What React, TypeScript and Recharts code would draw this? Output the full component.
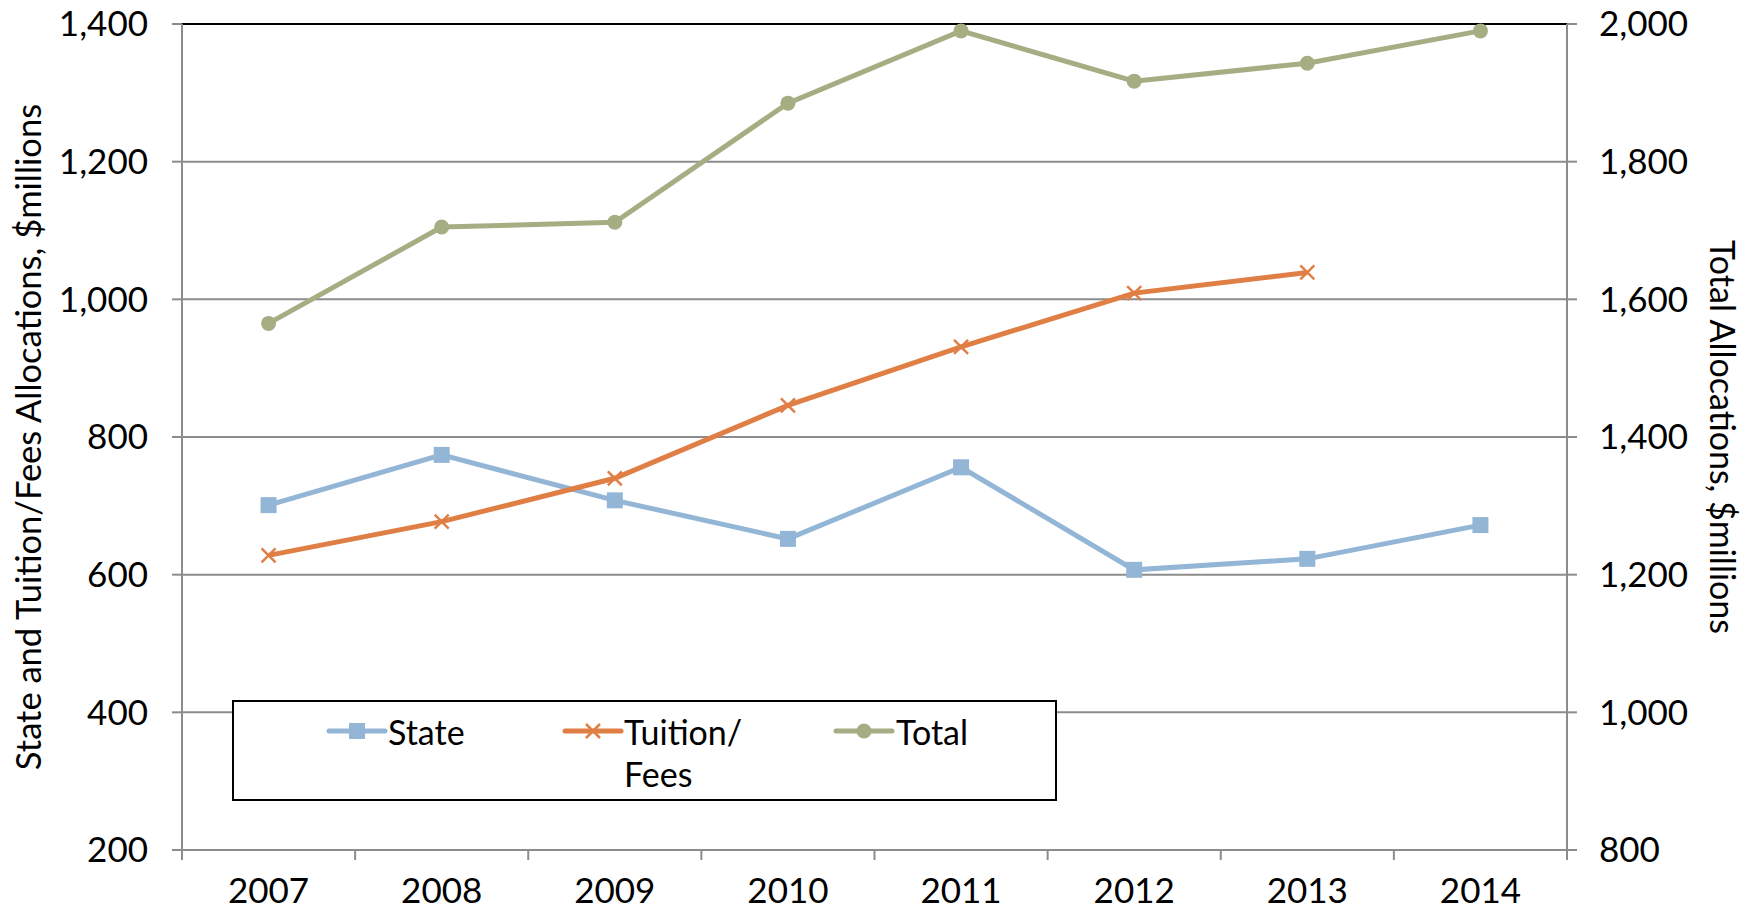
import React from "react";
import { LineChart, Line, XAxis, YAxis, CartesianGrid, ReferenceLine } from "recharts";

const years = ["2007", "2008", "2009", "2010", "2011", "2012", "2013", "2014"];
const stateVals = [701, 774, 708, 652, 756, 607, 623, 672];
const tuitionVals: (number | null)[] = [628, 677, 740, 846, 931, 1009, 1039, null];
const totalVals = [1565, 1705, 1712, 1885, 1990, 1917, 1943, 1990];
const leftTicks = [200, 400, 600, 800, 1000, 1200, 1400];
const rightTicks = [800, 1000, 1200, 1400, 1600, 1800, 2000];
const xTicks = [0, 0.5, 1, 1.5, 2, 2.5, 3, 3.5, 4, 4.5, 5, 5.5, 6, 6.5, 7, 7.5, 8];

const data = years.map((y, i) => ({
  x: i + 0.5,
  year: y,
  state: stateVals[i],
  tuition: tuitionVals[i],
  total: totalVals[i],
}));

const BLUE = "#93B6D6";
const ORANGE = "#E07F45";
const GREEN = "#A5AE83";
const GRID = "#8C8C8C";
const FONT = "Lato, 'Open Sans', sans-serif";

const fmt = (v: number) => v.toLocaleString("en-US");

const XTick = (props: any) => {
  const { x, y, payload } = props;
  const v = payload.value as number;
  if (Number.isInteger(v)) {
    return <line x1={x} x2={x} y1={y} y2={y + 10} stroke={GRID} strokeWidth={2} />;
  }
  return (
    <text x={x} y={y + 39} textAnchor="middle" dominantBaseline="central" fontSize={35} fill="#000" fontFamily={FONT}>
      {years[Math.floor(v)]}
    </text>
  );
};

const SquareDot = (props: any) => {
  const { cx, cy } = props;
  if (cx == null || cy == null) return null;
  return <rect x={cx - 8} y={cy - 8} width={16} height={16} fill={BLUE} />;
};

const CrossDot = (props: any) => {
  const { cx, cy, value } = props;
  if (cx == null || cy == null || value == null) return null;
  return (
    <g stroke={ORANGE} strokeWidth={2.5}>
      <line x1={cx - 7} y1={cy - 7} x2={cx + 7} y2={cy + 7} />
      <line x1={cx - 7} y1={cy + 7} x2={cx + 7} y2={cy - 7} />
    </g>
  );
};

const CircleDot = (props: any) => {
  const { cx, cy } = props;
  if (cx == null || cy == null) return null;
  return <circle cx={cx} cy={cy} r={7.5} fill={GREEN} />;
};

const LeftTitle = (props: any) => {
  const vb = props.viewBox || {};
  const cx = (vb.x ?? 0) + 27;
  const cy = (vb.y ?? 0) + (vb.height ?? 0) / 2;
  return (
    <text x={cx} y={cy} transform={`rotate(-90 ${cx} ${cy})`} textAnchor="middle" dominantBaseline="central" fontSize={34.5} fill="#000" fontFamily={FONT}>
      State and Tuition/Fees Allocations, $millions
    </text>
  );
};

const RightTitle = (props: any) => {
  const vb = props.viewBox || {};
  const cx = (vb.x ?? 0) + 156;
  const cy = (vb.y ?? 0) + (vb.height ?? 0) / 2;
  return (
    <text x={cx} y={cy} transform={`rotate(90 ${cx} ${cy})`} textAnchor="middle" dominantBaseline="central" fontSize={34} fill="#000" fontFamily={FONT}>
      Total Allocations, $millions
    </text>
  );
};

const LegendBox = () => (
  <div
    style={{
      position: "absolute",
      left: 232,
      top: 700,
      width: 825,
      height: 101,
      border: "2px solid #000",
      background: "#fff",
      boxSizing: "border-box",
    }}
  >
    <svg width={821} height={97} style={{ display: "block" }}>
      <g>
        <line x1={95} x2={151} y1={29} y2={29} stroke={BLUE} strokeWidth={5} strokeLinecap="round" />
        <rect x={115} y={21} width={16} height={16} fill={BLUE} />
        <text x={154} y={29} dominantBaseline="central" fontSize={34} fontFamily={FONT}>State</text>
      </g>
      <g>
        <line x1={331} x2={387} y1={29} y2={29} stroke={ORANGE} strokeWidth={5} strokeLinecap="round" />
        <g stroke={ORANGE} strokeWidth={2.5}>
          <line x1={352} y1={22} x2={366} y2={36} />
          <line x1={352} y1={36} x2={366} y2={22} />
        </g>
        <text x={390} y={29} dominantBaseline="central" fontSize={34} fontFamily={FONT}>Tuition/</text>
        <text x={390} y={71} dominantBaseline="central" fontSize={34} fontFamily={FONT}>Fees</text>
      </g>
      <g>
        <line x1={602} x2={658} y1={29} y2={29} stroke={GREEN} strokeWidth={5} strokeLinecap="round" />
        <circle cx={630} cy={29} r={7.5} fill={GREEN} />
        <text x={662} y={29} dominantBaseline="central" fontSize={34} fontFamily={FONT}>Total</text>
      </g>
    </svg>
  </div>
);

export default function App() {
  return (
    <div style={{ position: "relative", width: 1749, height: 911, fontFamily: FONT, overflow: "hidden" }}>
      <style>{"html,body{margin:0;padding:0;overflow:hidden;}"}</style>
      <LineChart width={1749} height={911} data={data} margin={{ top: 24, right: 0, bottom: 8, left: 0 }}>
        <CartesianGrid yAxisId="left" vertical={false} stroke={GRID} strokeWidth={2} />
        <XAxis
          dataKey="x"
          type="number"
          domain={[0, 8]}
          ticks={xTicks}
          interval={0}
          height={53}
          axisLine={{ stroke: GRID, strokeWidth: 2 }}
          tickLine={false}
          tickSize={0}
          tickMargin={0}
          tick={<XTick />}
        />
        <YAxis
          yAxisId="left"
          domain={[200, 1400]}
          ticks={leftTicks}
          interval={0}
          width={182}
          tickFormatter={fmt}
          tickSize={10}
          tickMargin={24}
          axisLine={{ stroke: GRID, strokeWidth: 2 }}
          tickLine={{ stroke: GRID, strokeWidth: 2 }}
          tick={{ fill: "#000", fontSize: 35, fontFamily: FONT }}
          label={<LeftTitle />}
        />
        <YAxis
          yAxisId="right"
          orientation="right"
          domain={[800, 2000]}
          ticks={rightTicks}
          interval={0}
          width={182}
          tickFormatter={fmt}
          tickSize={10}
          tickMargin={22}
          axisLine={{ stroke: GRID, strokeWidth: 2 }}
          tickLine={{ stroke: GRID, strokeWidth: 2 }}
          tick={{ fill: "#000", fontSize: 35, fontFamily: FONT }}
          label={<RightTitle />}
        />
        <ReferenceLine yAxisId="left" y={1400} stroke="#000" strokeWidth={2} />
        <Line yAxisId="left" dataKey="state" stroke={BLUE} strokeWidth={5} dot={<SquareDot />} isAnimationActive={false} />
        <Line yAxisId="left" dataKey="tuition" stroke={ORANGE} strokeWidth={5} dot={<CrossDot />} isAnimationActive={false} />
        <Line yAxisId="right" dataKey="total" stroke={GREEN} strokeWidth={5} dot={<CircleDot />} isAnimationActive={false} />
      </LineChart>
      <LegendBox />
    </div>
  );
}
